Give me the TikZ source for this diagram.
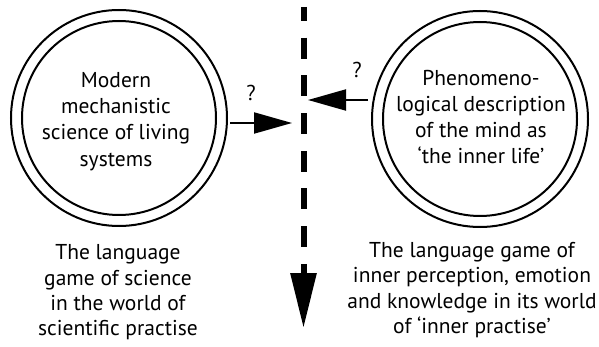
\documentclass[tikz,border=0pt]{standalone}
\usepackage{fontspec}
\setmainfont{PT Sans}
\usetikzlibrary{arrows.meta}
\begin{document}
\begin{tikzpicture}[x=1pt,y=-1pt,
  ring/.style={circle, draw, line width=2pt, inner sep=0pt},
  outerring/.style={ring, minimum size=216pt},
  innerring/.style={ring, minimum size=194pt},
  ctext/.style={align=center, inner sep=0pt, font=\fontsize{21.5}{26.3}\selectfont},
  btext/.style={align=center, inner sep=0pt, font=\fontsize{21.5}{25.3}\selectfont},
  qmark/.style={inner sep=0pt, font=\fontsize{21.5}{26}\selectfont},
  link/.style={line width=2pt, -{Triangle[length=38pt, width=21pt]}},
  divider/.style={line width=6pt, dash pattern=on 21pt off 16.7pt, dash phase=7pt,
                  -{Triangle[length=55pt, width=25pt]}}
]
\useasboundingbox (0,0) rectangle (599,347);

% left circle
\node[outerring] (Lo) at (119,118) {};
\node[innerring] (Li) at (119,118) {};
\node[ctext] (Lt) at (116,121.5) {Modern\\mechanistic\\science of living\\systems};

% right circle
\node[outerring] (Ro) at (480,119) {};
\node[innerring] (Ri) at (480,119) {};
\node[ctext] (Rt) at (481,117) {Phenomeno-\\logical description\\of the mind as\\‘the inner life’};

% captions
\node[btext] (Lc) at (118,292.5) {The language\\game of science\\in the world of\\scientific practise};
\node[btext] (Rc) at (472,290) {The language game of\\inner perception, emotion\\and knowledge in its world\\of ‘inner practise’};

% divider
\coordinate (dtop) at (303.5,7);
\coordinate (dbot) at (303.5,328);
\draw[divider] (dtop) -- (dbot);

% arrows
\coordinate (la) at (230,123);
\coordinate (lb) at (292,123);
\draw[link] (la) -- (lb);
\coordinate (ra) at (368,100);
\coordinate (rb) at (308,100);
\draw[link] (ra) -- (rb);

\node[qmark] (q1) at (251,92.5) {?};
\node[qmark] (q2) at (357,69.5) {?};
\end{tikzpicture}
\end{document}
